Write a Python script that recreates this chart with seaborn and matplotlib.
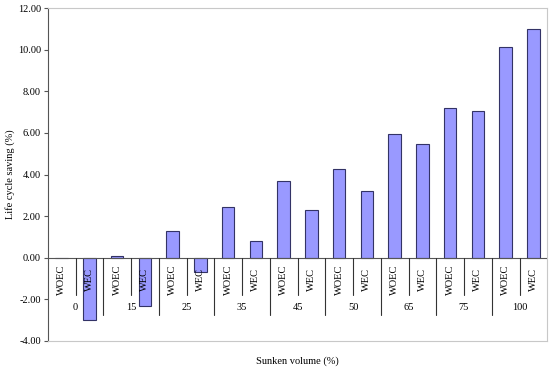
import matplotlib
matplotlib.use("Agg")
import matplotlib.pyplot as plt
import seaborn as sns
import pandas as pd

volumes = ["0", "15", "25", "35", "45", "50", "65", "75", "100"]
cases = ["WOEC", "WEC"]
woec = [0.0, 0.1, 1.3, 2.45, 3.7, 4.25, 5.95, 7.2, 10.15]
wec = [-2.97, -2.3, -0.7, 0.8, 2.3, 3.2, 5.45, 7.05, 11.0]

rows = []
for v, a, b in zip(volumes, woec, wec):
    rows.append({"slot": v + " WOEC", "case": "WOEC", "vol": v, "saving": a})
    rows.append({"slot": v + " WEC", "case": "WEC", "vol": v, "saving": b})
df = pd.DataFrame(rows)

sns.set_style("white")
plt.rcParams["font.family"] = ["Liberation Serif", "DejaVu Serif"]
plt.rcParams["text.color"] = "black"
plt.rcParams["axes.labelcolor"] = "black"
plt.rcParams["ytick.color"] = "black"

fig = plt.figure(figsize=(5.5, 3.67), dpi=100)
ax = fig.add_axes([0.087, 0.071, 0.908, 0.907])

sns.barplot(data=df, x="slot", y="saving", color="#9999ff", saturation=1,
            edgecolor="#333366", linewidth=0.8, width=0.45, ax=ax, zorder=2)

ax.set_ylim(-4, 12)
ax.set_xlim(-0.5, len(df) - 0.5)
ax.set_yticks(range(-4, 13, 2))
ax.set_yticklabels([f"{t:.2f}" for t in range(-4, 13, 2)], fontsize=7.5)
ax.tick_params(axis="y", left=True, length=3, width=0.8, color="#555555", pad=2)
ax.set_xticks([])
ax.set_xlabel("Sunken volume (%)", fontsize=7.5, labelpad=11)
ax.set_ylabel("Life cycle saving (%)", fontsize=7.5, labelpad=2)

for s in ["top", "right", "bottom"]:
    ax.spines[s].set_color("#c8c8c8")
    ax.spines[s].set_linewidth(0.8)
ax.spines["left"].set_color("#555555")
ax.spines["left"].set_linewidth(0.8)

ax.axhline(0, color="#555555", lw=0.8, zorder=3)

# multi-level category axis drawn at the zero line
for i in range(len(df)):
    ax.text(i, -1.06, df["case"][i], rotation=90, ha="center", va="center",
            fontsize=7.5, zorder=4)
for g, v in enumerate(volumes):
    ax.text(2 * g + 0.5, -2.4, v, ha="center", va="center", fontsize=7.5)
    ax.plot([2 * g + 0.5] * 2, [0, -1.78], color="#333333", lw=0.8, zorder=3)
    if g < len(volumes) - 1:
        ax.plot([2 * g + 1.5] * 2, [0, -2.74], color="#333333", lw=0.8, zorder=3)

fig.savefig("out.png", dpi=100)
